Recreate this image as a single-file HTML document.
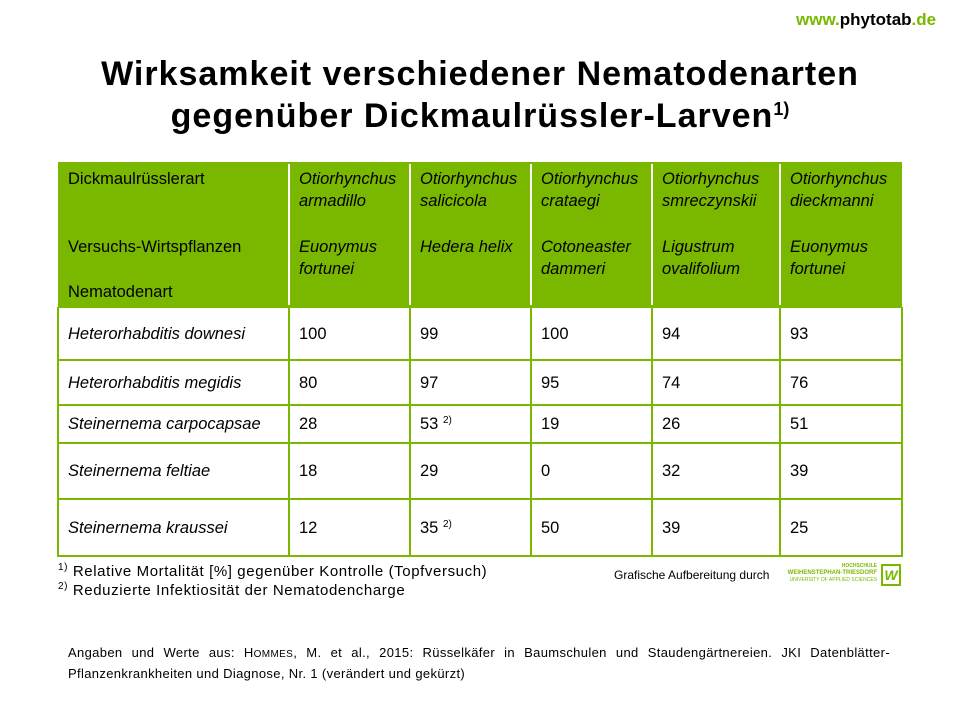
<!DOCTYPE html>
<html><head><meta charset="utf-8">
<style>
body{margin:0;width:960px;height:720px;background:#fff;position:relative;overflow:hidden;font-family:"Liberation Sans",sans-serif;color:#000}
.abs{position:absolute}
.cell{position:absolute;font-size:16.5px;line-height:22px;white-space:nowrap}
.it{font-style:italic}
sup{font-size:10px;vertical-align:6px;line-height:0}
</style></head><body>
<div class="abs" style="left:796px;top:10px;font-size:17px;font-weight:bold;color:#000"><span style="color:#7ab800">www.</span>phytotab<span style="color:#7ab800">.de</span></div>
<div class="abs" style="left:0;width:960px;top:53px;text-align:center;font-size:34px;letter-spacing:1px;font-weight:bold;line-height:42px;">Wirksamkeit verschiedener Nematodenarten<br>gegenüber Dickmaulrüssler-Larven<sup style="font-size:18px;vertical-align:12px;letter-spacing:0">1)</sup></div>
<div id="tbl" class="abs" style="left:0;top:0;width:960px;height:720px"></div>
<div class="abs" style="left:58px;top:563px;font-size:15px;letter-spacing:0.6px"><sup>1)</sup> Relative Mortalität [%] gegenüber Kontrolle (Topfversuch)</div>
<div class="abs" style="left:58px;top:582px;font-size:15px;letter-spacing:0.6px"><sup>2)</sup> Reduzierte Infektiosität der Nematodencharge</div>
<div class="abs" style="left:614px;top:568px;font-size:12px">Grafische Aufbereitung durch</div>
<div class="abs" style="left:785px;top:563px;width:120px;height:22px;color:#7ab800;font-weight:bold">
<div style="position:absolute;right:28px;top:0;font-size:5px">HOCHSCHULE</div>
<div style="position:absolute;right:28px;top:7px;font-size:6px">WEIHENSTEPHAN-TRIESDORF</div>
<div style="position:absolute;right:28px;top:14px;font-size:5px;font-weight:normal">UNIVERSITY OF APPLIED SCIENCES</div>
<div style="position:absolute;right:4px;top:1px;width:16px;height:18px;border:2px solid #7ab800;font-size:14px;line-height:18px;text-align:center;font-style:italic">W</div>
</div>
<div class="abs" style="left:68px;top:643px;width:822px;font-size:13px;letter-spacing:0.35px;line-height:19px;text-align:justify">Angaben und Werte aus: H<span style="font-size:10px">OMMES</span>, M. et al., 2015: Rüsselkäfer in Baumschulen und Staudengärtnereien. JKI Datenblätter-Pflanzenkrankheiten und Diagnose, Nr. 1 (verändert und gekürzt)</div>
<script>
const species=["Otiorhynchus armadillo","Otiorhynchus salicicola","Otiorhynchus crataegi","Otiorhynchus smreczynskii","Otiorhynchus dieckmanni"];
const hosts=[["Euonymus","fortunei"],["Hedera helix",""],["Cotoneaster","dammeri"],["Ligustrum","ovalifolium"],["Euonymus","fortunei"]];
const nematodes=["Heterorhabditis downesi","Heterorhabditis megidis","Steinernema carpocapsae","Steinernema feltiae","Steinernema kraussei"];
const v1=[100,80,28,18,12];
const v2=[99,97,53,29,35];
const v3=[100,95,19,0,50];
const v4=[94,74,26,32,39];
const v5=[93,76,51,39,25];
const notes=[["","","","",""],["","","","",""],["","2)","","",""],["","","","",""],["","2)","","",""]];
const cols=[58,289,410,531,652,780,902];
const rows=[307,360,405,443,499,556];
const G="#7ab800";
const t=document.getElementById('tbl');
function box(x,y,w,h,bg){const d=document.createElement('div');d.style.cssText=`position:absolute;left:${x}px;top:${y}px;width:${w}px;height:${h}px;background:${bg}`;t.appendChild(d);return d;}
const hd=box(58,162,844,145,G);


for(let i=1;i<6;i++){const s=box(cols[i]-1,164,2,141,"#fff");}
for(let r=0;r<rows.length;r++){const l=box(58,rows[r]-1,844,2,G);}
for(let i=0;i<cols.length;i++){const l=box(cols[i]-1,307,2,250,G);}
function txt(x,y,html,cls,name){const d=document.createElement('div');d.className='cell '+(cls||'');d.style.left=x+'px';d.style.top=y+'px';d.innerHTML=html;


t.appendChild(d);}
txt(68,168,"Dickmaulrüsslerart","","header-label-species");
txt(68,236,"Versuchs-Wirtspflanzen","","header-label-hosts");
txt(68,281,"Nematodenart","","header-label-nematode");
for(let i=0;i<5;i++){
 const p=species[i].split(' ');
 txt(cols[i+1]+10,168,p[0]+"<br>"+p[1],"it","species-header");
 txt(cols[i+1]+10,236,hosts[i][0]+"<br>"+hosts[i][1],"it","host-header");
}
const vals=[v1,v2,v3,v4,v5];
for(let r=0;r<5;r++){
 const cy=(rows[r]+rows[r+1])/2-11;
 txt(68,cy,nematodes[r],"it","nematode-label");
 for(let c=0;c<5;c++){
  const n=notes[r][c];
  txt(cols[c+1]+10,cy,vals[c][r]+(n?" <sup>"+n+"</sup>":""),"","value-cell");
 }
}
</script>
</body></html>
